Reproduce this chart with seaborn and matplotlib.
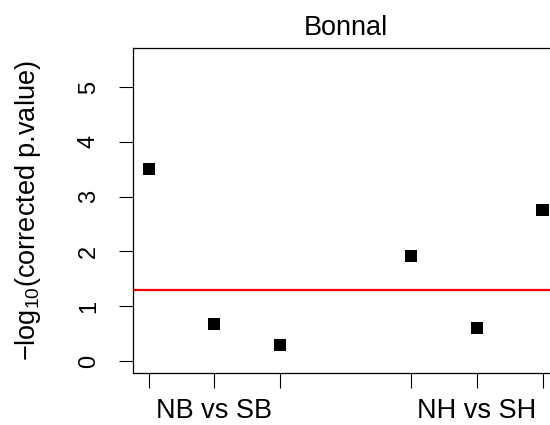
import matplotlib
matplotlib.use('Agg')
import matplotlib.pyplot as plt
import seaborn as sns
import pandas as pd

# values
index = [1, 2, 3, 5, 6, 7]
neg_log_p = [3.50, 0.67, 0.29, 1.91, 0.61, 2.76]
tick_labels = ['', 'NB vs SB', '', '', 'NH vs SH', '']
threshold = 1.30  # -log10(0.05)
y_ticks = [0, 1, 2, 3, 4, 5]

sns.set_style('ticks')
plt.rcParams['font.family'] = ['Liberation Sans', 'DejaVu Sans']
plt.rcParams['mathtext.fontset'] = 'custom'
plt.rcParams['mathtext.rm'] = 'Liberation Sans'
plt.rcParams['mathtext.default'] = 'regular'
plt.rcParams['text.color'] = 'black'
plt.rcParams['axes.labelcolor'] = 'black'
plt.rcParams['xtick.color'] = 'black'
plt.rcParams['ytick.color'] = 'black'

df = pd.DataFrame({'index': index, 'value': neg_log_p})

fig = plt.figure(figsize=(5.5, 4.25), dpi=100)
ax = fig.add_axes([0.242, 0.122, 0.773, 0.766])

sns.scatterplot(data=df, x='index', y='value', marker='s', s=75,
                color='black', edgecolor='none', ax=ax)
ax.axhline(threshold, color='#ff0000', linewidth=1.6)

ax.set_xlim(0.76, 7.24)
ax.set_ylim(-0.22, 5.72)
ax.set_xticks(index)
ax.set_xticklabels(tick_labels)
ax.set_yticks(y_ticks)
ax.set_yticklabels([str(t) for t in y_ticks], rotation=90, va='center')

ax.tick_params(axis='x', bottom=True, length=11, width=0.8, pad=7, labelsize=19.5, direction='out')
ax.tick_params(axis='y', left=True, length=10, width=0.8, pad=14, labelsize=17, direction='out')
for sp in ax.spines.values():
    sp.set_visible(True)
    sp.set_linewidth(0.9)
    sp.set_color('black')

ax.set_xlabel('')
ax.set_ylabel('\u2212log$_{10}$(corrected p.value)', fontsize=19.5)
ax.yaxis.set_label_coords(-0.212, 0.5)
ax.set_title('Bonnal', fontsize=19.5, pad=9)

fig.savefig('out.png', dpi=100)
